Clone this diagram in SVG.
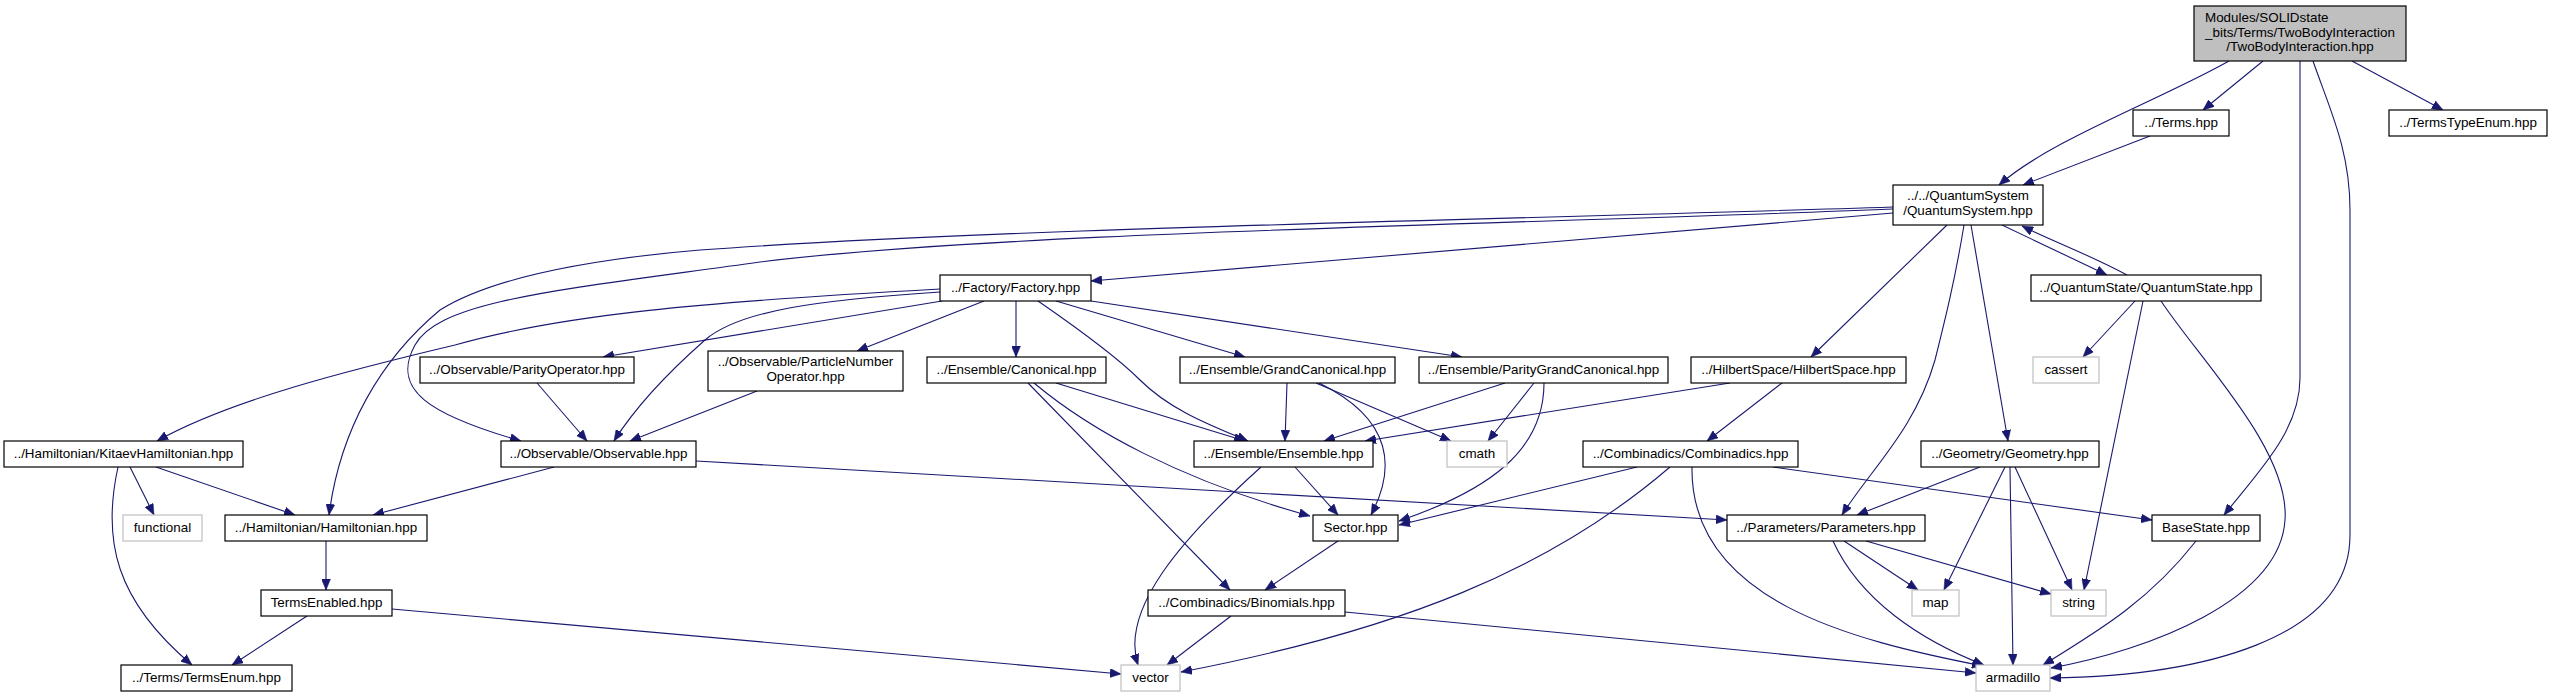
<svg xmlns="http://www.w3.org/2000/svg" width="2553" height="696" viewBox="0 0 2553 696">
<style>
.n rect{fill:#fff;stroke:#000;stroke-width:1.2}
.g rect{fill:#fff;stroke:#bfbfbf;stroke-width:1.2}
.root rect{fill:#bfbfbf;stroke:#000;stroke-width:1.2}
text{font-family:"Liberation Sans",Arial,sans-serif;font-size:13.4px;fill:#000;text-anchor:middle}
.e path{fill:none;stroke:#191970;stroke-width:1.1;marker-end:url(#ah)}
</style>
<defs>
<marker id="ah" markerUnits="userSpaceOnUse" markerWidth="11" markerHeight="9" viewBox="0 0 11 9" refX="11" refY="4.5" orient="auto">
<path d="M0,0 L11,4.5 L0,9 z" fill="#191970" stroke="#191970" stroke-width="0.5"/>
</marker>
</defs>
<rect width="2553" height="696" fill="#fff"/>
<g class="e" id="edges">
<path d="M2229,61 C2160,100 2050,140 1999,185"/>
<path d="M2263,61 L2203,110"/>
<path d="M2352,61 L2443,110"/>
<path d="M2300,61 L2300,378 C2300,430 2260,470 2224,515"/>
<path d="M2313,61 C2330,110 2350,150 2350,210 L2350,535 C2350,640 2200,676 2050,678"/>
<path d="M2150,136 L2023,185"/>
<path d="M1893,213 L1091,281"/>
<path d="M1893,207 C1500,220 1000,228 700,250 C560,262 480,285 440,310 C380,360 340,430 329,515"/>
<path d="M1893,209 C1500,225 1000,232 760,262 C560,290 440,300 415,345 C390,390 430,415 521,441"/>
<path d="M940,289 C700,302 560,315 455,345 C350,370 230,400 157,441"/>
<path d="M940,292 C820,300 740,310 705,340 C680,362 640,400 614,441"/>
<path d="M942,301 L603,357"/>
<path d="M984,301 L857,351"/>
<path d="M1016,301 L1016,357"/>
<path d="M1038,301 C1080,330 1120,360 1140,380 C1170,410 1210,425 1248,441"/>
<path d="M1056,301 L1245,357"/>
<path d="M1091,301 L1462,357"/>
<path d="M1947,225 L1811,357"/>
<path d="M1964,225 C1955,280 1945,320 1935,360 C1915,430 1870,470 1842,515"/>
<path d="M1971,225 L2008,441"/>
<path d="M2002,225 L2107,275"/>
<path d="M2127,275 C2090,255 2050,240 2022,226"/>
<path d="M2135,301 L2083,357"/>
<path d="M2143,301 L2084,590"/>
<path d="M2161,301 C2200,360 2290,450 2285,520 C2280,600 2150,650 2051,668"/>
<path d="M1730,383 L1365,441"/>
<path d="M1782,383 L1707,441"/>
<path d="M1637,467 L1399,525"/>
<path d="M1544,383 C1544,450 1490,490 1399,521"/>
<path d="M1670,467 C1550,570 1400,630 1181,672"/>
<path d="M1692,467 C1690,600 1850,640 1983,666"/>
<path d="M1773,467 L2152,520"/>
<path d="M696,461 L1727,520"/>
<path d="M1287,383 L1285,441"/>
<path d="M1316,383 L1451,441"/>
<path d="M1319,383 C1395,420 1395,470 1371,515"/>
<path d="M1505,383 L1324,441"/>
<path d="M1534,383 L1488,441"/>
<path d="M1056,383 L1245,441"/>
<path d="M1034,383 C1090,430 1180,480 1310,516"/>
<path d="M1028,383 L1230,590"/>
<path d="M1295,467 L1338,515"/>
<path d="M1261,467 C1180,540 1120,610 1138,665"/>
<path d="M1338,541 L1265,590"/>
<path d="M1231,616 L1167,665"/>
<path d="M1345,612 L1976,673"/>
<path d="M392,609 L1121,674"/>
<path d="M130,467 L154,515"/>
<path d="M156,467 L295,515"/>
<path d="M118,467 C102,540 115,600 192,665"/>
<path d="M326,541 L326,590"/>
<path d="M307,616 L232,665"/>
<path d="M554,467 L373,515"/>
<path d="M537,383 L587,441"/>
<path d="M757,391 L630,441"/>
<path d="M1980,467 L1857,515"/>
<path d="M2005,467 L1944,590"/>
<path d="M2010,467 L2013,665"/>
<path d="M2015,467 L2072,590"/>
<path d="M1844,541 L1918,590"/>
<path d="M1866,541 L2051,594"/>
<path d="M1833,541 C1860,600 1920,640 1984,665"/>
<path d="M2196,541 C2150,600 2100,630 2043,665"/>
</g>
<g id="n_root" class="root"><rect x="2194" y="6" width="212" height="55"/><text x="2205" y="22" style="text-anchor:start">Modules/SOLIDstate</text><text x="2300" y="37">_bits/Terms/TwoBodyInteraction</text><text x="2300" y="51">/TwoBodyInteraction.hpp</text></g>
<g id="n_terms" class="n"><rect x="2133" y="110" width="96" height="26"/><text x="2181" y="127">../Terms.hpp</text></g>
<g id="n_termstypeenum" class="n"><rect x="2389" y="110" width="158" height="26"/><text x="2468" y="127">../TermsTypeEnum.hpp</text></g>
<g id="n_quantumsystem" class="n"><rect x="1893" y="185" width="150" height="40"/><text x="1968" y="200">../../QuantumSystem</text><text x="1968" y="215">/QuantumSystem.hpp</text></g>
<g id="n_quantumstate" class="n"><rect x="2031" y="275" width="230" height="26"/><text x="2146" y="292">../QuantumState/QuantumState.hpp</text></g>
<g id="n_factory" class="n"><rect x="940" y="275" width="151" height="26"/><text x="1015.5" y="292">../Factory/Factory.hpp</text></g>
<g id="n_parityoperator" class="n"><rect x="420" y="357" width="214" height="26"/><text x="527" y="374">../Observable/ParityOperator.hpp</text></g>
<g id="n_particlenumber" class="n"><rect x="708" y="351" width="195" height="40"/><text x="805.5" y="366">../Observable/ParticleNumber</text><text x="805.5" y="381">Operator.hpp</text></g>
<g id="n_canonical" class="n"><rect x="927" y="357" width="179" height="26"/><text x="1016.5" y="374">../Ensemble/Canonical.hpp</text></g>
<g id="n_grandcanonical" class="n"><rect x="1180" y="357" width="215" height="26"/><text x="1287.5" y="374">../Ensemble/GrandCanonical.hpp</text></g>
<g id="n_paritygrandcanonical" class="n"><rect x="1419" y="357" width="249" height="26"/><text x="1543.5" y="374">../Ensemble/ParityGrandCanonical.hpp</text></g>
<g id="n_hilbertspace" class="n"><rect x="1691" y="357" width="215" height="26"/><text x="1798.5" y="374">../HilbertSpace/HilbertSpace.hpp</text></g>
<g id="n_cassert" class="g"><rect x="2033" y="357" width="66" height="26"/><text x="2066" y="374">cassert</text></g>
<g id="n_kitaev" class="n"><rect x="4" y="441" width="239" height="26"/><text x="123.5" y="458">../Hamiltonian/KitaevHamiltonian.hpp</text></g>
<g id="n_observable" class="n"><rect x="501" y="441" width="195" height="26"/><text x="598.5" y="458">../Observable/Observable.hpp</text></g>
<g id="n_ensemble" class="n"><rect x="1194" y="441" width="179" height="26"/><text x="1283.5" y="458">../Ensemble/Ensemble.hpp</text></g>
<g id="n_cmath" class="g"><rect x="1447" y="441" width="60" height="26"/><text x="1477" y="458">cmath</text></g>
<g id="n_combinadics" class="n"><rect x="1583" y="441" width="215" height="26"/><text x="1690.5" y="458">../Combinadics/Combinadics.hpp</text></g>
<g id="n_geometry" class="n"><rect x="1921" y="441" width="178" height="26"/><text x="2010" y="458">../Geometry/Geometry.hpp</text></g>
<g id="n_functional" class="g"><rect x="123" y="515" width="79" height="26"/><text x="162.5" y="532">functional</text></g>
<g id="n_hamiltonian" class="n"><rect x="225" y="515" width="202" height="26"/><text x="326" y="532">../Hamiltonian/Hamiltonian.hpp</text></g>
<g id="n_sector" class="n"><rect x="1313" y="515" width="85" height="26"/><text x="1355.5" y="532">Sector.hpp</text></g>
<g id="n_parameters" class="n"><rect x="1727" y="515" width="198" height="26"/><text x="1826" y="532">../Parameters/Parameters.hpp</text></g>
<g id="n_basestate" class="n"><rect x="2152" y="515" width="108" height="26"/><text x="2206" y="532">BaseState.hpp</text></g>
<g id="n_termsenabled" class="n"><rect x="261" y="590" width="131" height="26"/><text x="326.5" y="607">TermsEnabled.hpp</text></g>
<g id="n_binomials" class="n"><rect x="1148" y="590" width="197" height="26"/><text x="1246.5" y="607">../Combinadics/Binomials.hpp</text></g>
<g id="n_map" class="g"><rect x="1912" y="590" width="47" height="26"/><text x="1935.5" y="607">map</text></g>
<g id="n_string" class="g"><rect x="2051" y="590" width="55" height="26"/><text x="2078.5" y="607">string</text></g>
<g id="n_termsenum" class="n"><rect x="121" y="665" width="171" height="26"/><text x="206.5" y="682">../Terms/TermsEnum.hpp</text></g>
<g id="n_vector" class="g"><rect x="1121" y="665" width="59" height="26"/><text x="1150.5" y="682">vector</text></g>
<g id="n_armadillo" class="g"><rect x="1976" y="665" width="74" height="26"/><text x="2013" y="682">armadillo</text></g>
</svg>
